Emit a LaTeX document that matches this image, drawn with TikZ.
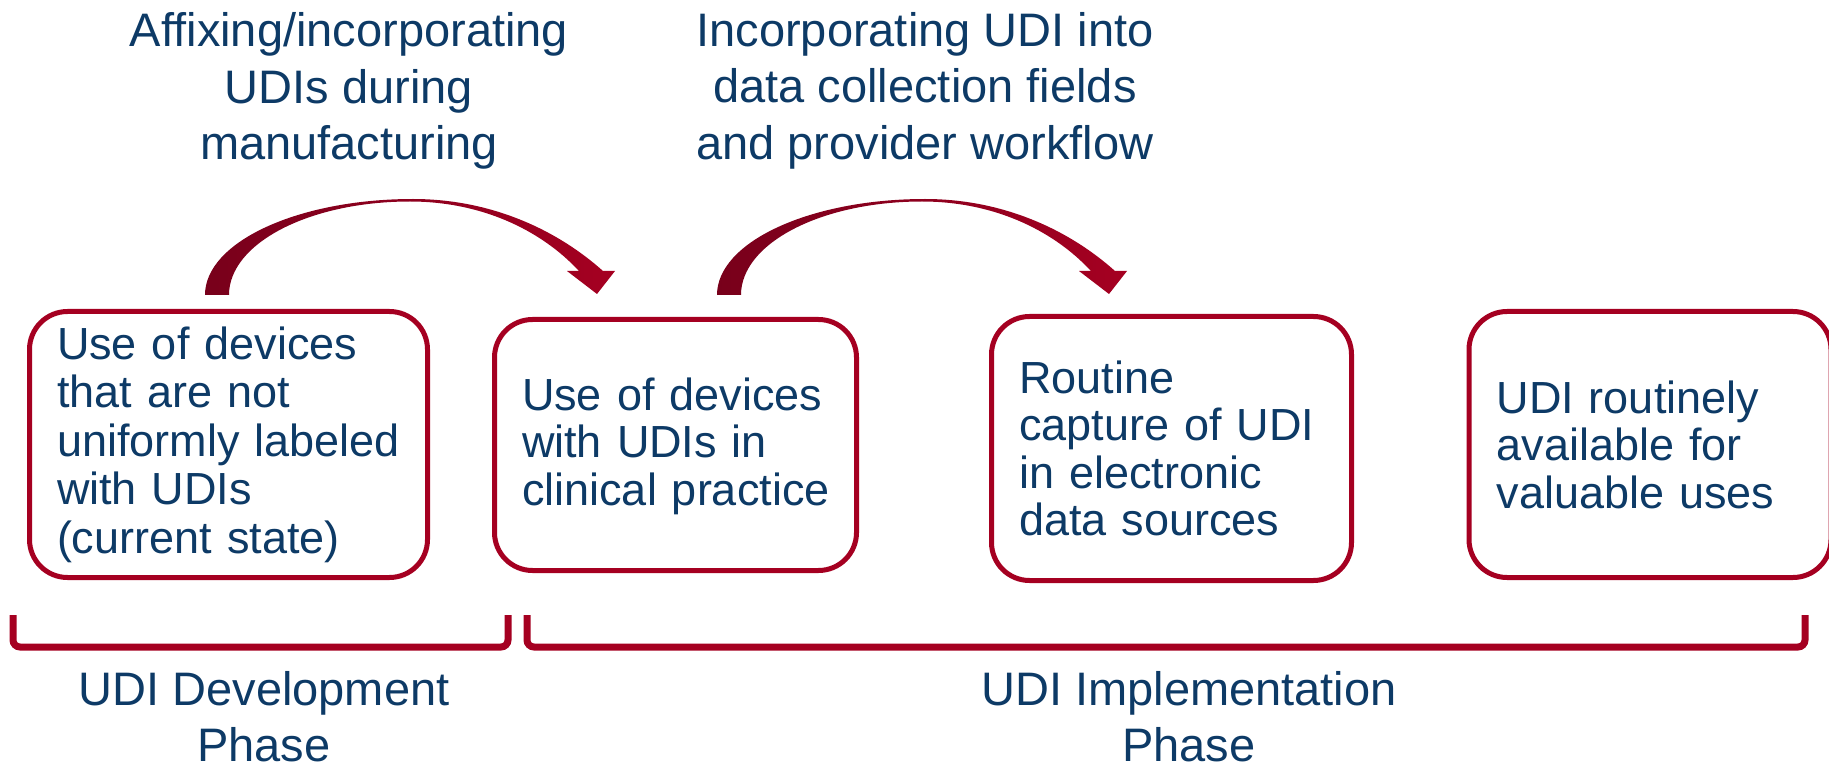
\documentclass[tikz,border=0pt]{standalone}
\usepackage{fontspec}
\setmainfont{Liberation Sans}
\definecolor{udiblue}{HTML}{0D3A66}
\definecolor{udired}{HTML}{A50021}
\definecolor{udidark}{HTML}{78001B}
\tikzset{
  stagebox/.style={draw=udired, line width=5pt, rounded corners=38pt, fill=white,
    text=udiblue, align=left, inner xsep=27.5pt, inner ysep=0pt,
    font=\fontsize{45}{47.5}\selectfont},
  toplabel/.style={text=udiblue, align=center, inner sep=0pt, anchor=north,
    font=\fontsize{47}{56.5}\selectfont},
  phasebracket/.style={draw=udired, line width=7pt, rounded corners=7pt},
  bigarrow/.pic={
    \shade[left color=udidark, right color=udired]
      (205,295) .. controls (205,242) and (298,199) .. (413,199)
      .. controls (490,199) and (556,229) .. (603,271)
      -- (615,271) -- (597,294) -- (567,271) -- (579,271)
      .. controls (540,229) and (480,201.5) .. (410,201.5)
      .. controls (310,201.5) and (229,243) .. (229,295) -- cycle;
  }
}
\begin{document}
\begin{tikzpicture}[x=1pt,y=-1pt]
\useasboundingbox (0,0) rectangle (1829,767);

% top labels
\node[toplabel] (lab1) at (349,12.5) {Affixing/incorporating\\UDIs during\\manufacturing};
\node[toplabel] (lab2) at (925,12) {Incorporating UDI into\\data collection fields\\and provider workflow};

% curved arrows
\pic at (0,0) {bigarrow};
\pic at (512,0) {bigarrow};

% stage boxes
\node[stagebox, font=\fontsize{45}{48.5}\selectfont, minimum width=398pt, minimum height=266pt, text width=343pt] (b1) at (228.5,444.5)
  {Use of devices\\that are not\\\mbox{uniformly labeled}\\with UDIs\\(current state)};
\node[stagebox, minimum width=362pt, minimum height=251pt, text width=307pt] (b2) at (675.5,445)
  {\rule{0pt}{35pt}Use of devices\\with UDIs in\\\mbox{clinical practice}};
\node[stagebox, minimum width=360pt, minimum height=264pt, text width=305pt] (b3) at (1171.5,448.5)
  {Routine\\capture of UDI\\in electronic\\data sources};
\node[stagebox, minimum width=362pt, minimum height=266pt, text width=307pt] (b4) at (1650,444.5)
  {UDI routinely\\available for\\valuable uses};

% phase brackets
\coordinate (dl) at (13,615);
\coordinate (dr) at (508,615);
\coordinate (il) at (527,615);
\coordinate (ir) at (1805,615);
\draw[phasebracket] (dl) -- ++(0,32) -| (dr);
\draw[phasebracket] (il) -- ++(0,32) -| (ir);

% phase labels
\node[toplabel] (ph1) at (264,671) {UDI Development\\Phase};
\node[toplabel] (ph2) at (1189,671) {UDI Implementation\\Phase};
\end{tikzpicture}
\end{document}
